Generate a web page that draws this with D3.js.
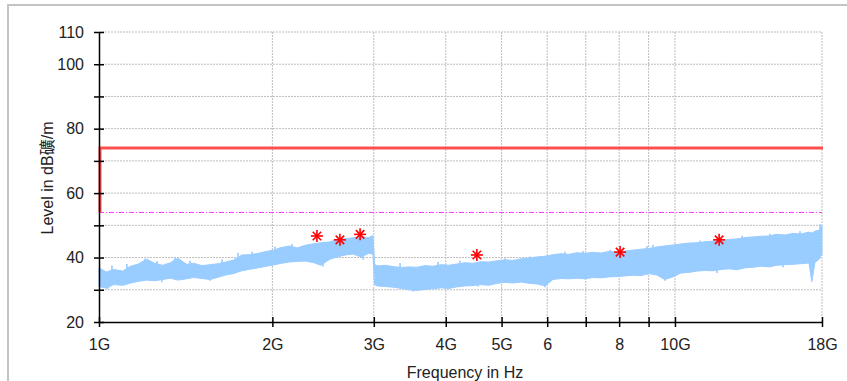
<!DOCTYPE html>
<html><head><meta charset="utf-8">
<script src="https://cdn.jsdelivr.net/npm/d3@7"></script>
<style>
html,body{margin:0;padding:0;background:#fff;}
svg{display:block;font-family:"Liberation Sans",Arial,"Noto Sans CJK SC",sans-serif;}
</style></head>
<body><svg id="c" width="847" height="381"></svg>
<script>
// ---- data (frequency in GHz, level in dB) ----
const xTicks = [1, 2, 3, 4, 5, 6, 7, 8, 9, 10, 18];
const xTickLabels = ["1G", "2G", "3G", "4G", "5G", "6", "", "8", "", "10G", "18G"];
const yTicks = [20, 30, 40, 50, 60, 70, 80, 90, 100, 110];
const yTickLabels = ["20", "", "40", "", "60", "", "80", "", "100", "110"];

const traceFreq = [1.00,1.03,1.06,1.10,1.13,1.17,1.21,1.25,1.29,1.33,1.37,1.42,1.46,1.51,1.56,1.61,1.66,1.71,1.77,1.83,1.89,1.95,2.01,2.07,2.14,2.21,2.28,2.36,2.43,2.51,2.59,2.68,2.76,2.85,2.94,2.99,
  3.01,3.04,3.14,3.24,3.35,3.45,3.57,3.68,3.80,3.93,4.05,4.18,4.32,4.46,4.60,4.75,4.91,5.07,5.23,5.40,5.58,5.76,5.95,6.14,6.34,6.54,6.76,6.98,7.20,7.44,7.68,7.93,8.18,8.45,8.73,9.01,9.30,9.60,9.92,
  10.24,10.57,10.92,11.27,11.64,12.02,12.41,12.81,13.23,13.66,14.10,14.56,15.03,15.52,16.03,16.55,17.09,17.28,17.50,17.80,18.0];
const traceMax = [36.8,35.5,36.3,35.8,37.2,38.0,39.5,38.2,37.6,38.4,39.8,37.9,38.2,37.5,37.8,38.1,38.6,39.2,40.8,40.9,41.3,41.9,42.3,43.1,43.6,43.0,43.8,44.3,44.6,44.8,45.6,45.9,46.1,46.4,46.2,46.8,
  37.9,37.4,37.6,37.2,36.9,37.1,37.0,37.5,37.3,37.8,37.6,38.0,38.4,38.2,38.7,38.6,39.0,39.3,39.1,39.6,39.9,40.2,40.4,40.9,41.2,41.0,41.5,41.3,41.6,41.4,41.9,41.7,42.0,42.3,42.6,42.8,43.3,43.6,43.9,
  44.2,44.5,44.6,44.9,45.1,45.4,45.6,45.8,46.2,46.4,46.6,46.7,47.2,47.0,47.5,47.3,47.9,47.6,48.2,48.5,50.0];
const traceMin = [31.0,30.5,31.6,31.4,32.0,32.6,33.0,32.8,33.2,33.6,33.0,33.4,33.8,33.5,33.2,33.9,34.6,35.0,35.9,36.4,36.8,37.3,37.7,38.2,38.6,38.8,38.9,38.4,37.6,39.4,40.2,40.8,41.1,40.2,41.3,41.0,
  31.6,31.2,31.0,30.8,30.4,30.0,29.8,30.1,30.3,30.6,30.4,30.9,31.2,31.3,31.6,31.4,32.0,32.3,32.1,32.4,32.0,31.8,31.2,33.2,33.5,33.4,33.6,33.4,33.8,33.7,34.0,34.1,34.3,34.5,34.4,35.0,34.6,33.2,34.0,
  35.2,35.4,35.8,36.0,35.9,36.3,36.5,36.2,36.8,37.0,37.3,37.1,37.6,37.8,37.9,38.1,38.3,32.5,38.5,39.5,41.0];

// isolated narrow excursions of the trace beyond the band
const spikeUpFreq = [1.053,1.118,1.202,1.261,1.355,1.439,1.635,1.743,1.844,2.021,2.163,2.761,3.332,3.878,4.234,5.07,5.603,6.444,6.924,7.715,8.942,9.159,11.05,13.08,14.62,16.49,17.86];
const spikeUpLevel = [37.5,38.0,39.6,38.9,40.2,39.0,39.4,41.5,41.8,43.4,44.2,46.3,38.3,38.6,39.0,39.8,40.3,41.8,42.0,42.4,43.6,44.0,45.3,46.8,47.4,48.2,50.3];
const spikeDownFreq = [1.036,1.286,1.559,2.448,2.873,3.509,4.55,5.946,9.609,11.83,15.40];
const spikeDownLevel = [30.3,32.3,32.8,37.2,39.3,29.5,31.0,30.8,32.8,35.2,37.0];

const peakFreq = [2.39, 2.62, 2.84, 4.53, 8.03, 11.93];
const peakLevel = [46.7, 45.5, 47.2, 40.8, 41.7, 45.5];

const limitFreq = [1, 1, 18];
const limitLevel = [54, 74, 74];
const avgLimitFreq = [1, 18];
const avgLimitLevel = [54, 54];

// ---- drawing ----
const svg = d3.select("#c");
const x = d3.scaleLog().domain([1, 18]).range([99, 822]);
const y = d3.scaleLinear().domain([20, 110]).range([322, 32]);

// outer frame
svg.append("path").attr("d", "M8,400 L8,5 L860,5").attr("fill", "none")
  .attr("stroke", "#c4c4c4").attr("stroke-width", 2);

// grid
const g = svg.append("g");
g.selectAll(".hg").data(yTicks.filter(v => v > 20)).join("line")
  .attr("x1", x(1)).attr("x2", x(18)).attr("y1", d => y(d)).attr("y2", d => y(d))
  .attr("stroke", "#bdbdbd").attr("stroke-dasharray", "2,1").attr("stroke-width", 1);
g.selectAll(".vg").data(xTicks.filter(v => v > 1)).join("line")
  .attr("x1", d => x(d)).attr("x2", d => x(d)).attr("y1", y(110)).attr("y2", y(20))
  .attr("stroke", "#bdbdbd").attr("stroke-dasharray", "2,1").attr("stroke-width", 1);

// trace band
const band = traceFreq.map((f, i) => ({f, hi: traceMax[i], lo: traceMin[i]}));
svg.append("path").datum(band)
  .attr("d", d3.area().x(d => x(d.f)).y0(d => y(d.lo)).y1(d => y(d.hi)))
  .attr("fill", "#99ccff").attr("stroke", "#99ccff").attr("stroke-width", 1);
const sp = svg.append("g").attr("stroke", "#99ccff").attr("stroke-width", 1.6);
spikeUpFreq.forEach((f, i) => {
  sp.append("line").attr("x1", x(f)).attr("x2", x(f))
    .attr("y1", y(spikeUpLevel[i])).attr("y2", y(spikeUpLevel[i]) + 14);
});
spikeDownFreq.forEach((f, i) => {
  sp.append("line").attr("x1", x(f)).attr("x2", x(f))
    .attr("y1", y(spikeDownLevel[i])).attr("y2", y(spikeDownLevel[i]) - 14);
});

// average limit (dash-dot magenta)
svg.append("path").datum(avgLimitFreq.map((f, i) => [f, avgLimitLevel[i]]))
  .attr("d", d3.line().x(d => x(d[0])).y(d => y(d[1])))
  .attr("fill", "none").attr("stroke", "#ff33ff").attr("stroke-width", 1)
  .attr("stroke-dasharray", "5,2,1,2");

// limit (red)
svg.append("path").datum(limitFreq.map((f, i) => [f, limitLevel[i]]))
  .attr("d", d3.line().x(d => x(d[0]) + 1).y(d => y(d[1])))
  .attr("fill", "none").attr("stroke", "#ff5050").attr("stroke-width", 3);

// axes
const yAxis = svg.append("g").attr("transform", `translate(${x(1)},0)`)
  .call(d3.axisLeft(y).tickValues(yTicks).tickFormat((d, i) => yTickLabels[i]).tickSizeInner(5).tickSizeOuter(0).tickPadding(10));
const xAxis = svg.append("g").attr("transform", `translate(0,${y(20)})`)
  .call(d3.axisBottom(x).tickValues(xTicks).tickFormat((d, i) => xTickLabels[i]).tickSizeInner(5).tickSizeOuter(0).tickPadding(12));
[yAxis, xAxis].forEach(a => {
  a.select(".domain").attr("stroke", "#000").attr("stroke-width", 1.5);
  a.selectAll(".tick line").attr("stroke", "#000").attr("stroke-width", 1.5);
  a.selectAll("text").attr("font-size", 16).attr("fill", "#222")
    .attr("font-family", "'Liberation Sans',Arial,sans-serif");
});
yAxis.selectAll(".tick line").attr("x1", 5).attr("x2", -5);
xAxis.selectAll(".tick line").attr("y1", -5).attr("y2", 5);

// peaks (asterisks)
const star = svg.append("g");
peakFreq.forEach((f, i) => {
  const cx = x(f), cy = y(peakLevel[i]), r = 6;
  [0, 45, 90, 135].forEach(a => {
    const rad = a * Math.PI / 180;
    star.append("line")
      .attr("x1", cx - r * Math.cos(rad)).attr("y1", cy - r * Math.sin(rad))
      .attr("x2", cx + r * Math.cos(rad)).attr("y2", cy + r * Math.sin(rad))
      .attr("stroke", "#ff0000").attr("stroke-width", 1.6);
  });
});

// titles
svg.append("text").attr("x", 465).attr("y", 378).attr("text-anchor", "middle")
  .attr("font-size", 16).attr("fill", "#222").text("Frequency in Hz");
svg.append("text").attr("transform", "translate(53,178) rotate(-90)").attr("text-anchor", "middle")
  .attr("font-size", 16).attr("fill", "#222").text("Level in dB礦/m");
</script></body></html>
